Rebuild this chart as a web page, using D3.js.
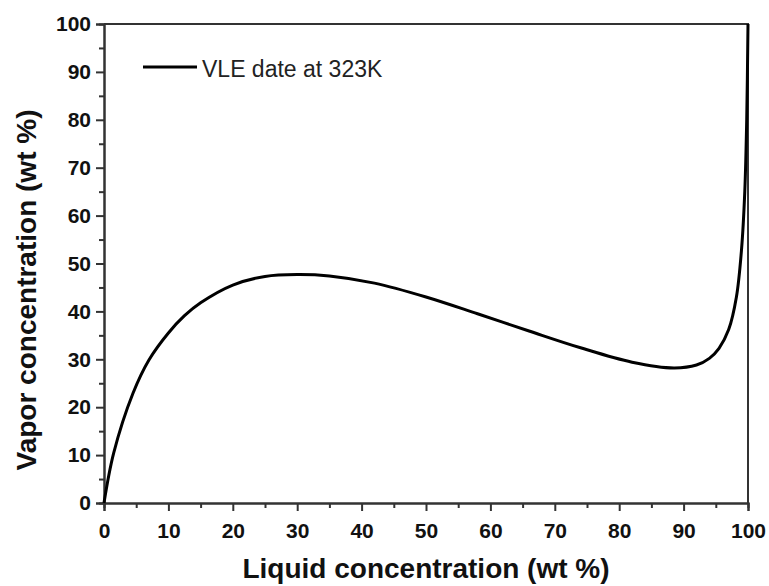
<!DOCTYPE html>
<html>
<head>
<meta charset="utf-8">
<script src="https://cdn.jsdelivr.net/npm/d3@7"></script>
<style>
  body { margin: 0; background: #fff; }
  svg { font-family: "Liberation Sans", Arial, sans-serif; }
</style>
</head>
<body>
<div id="chart"></div>
<script>
// VLE curve
const liquid = [0, 1.5, 4.5, 7, 10, 12.5, 15, 20, 25, 30, 35, 42, 50, 58, 66, 74, 82, 88.5, 92, 94, 95.5, 97, 98.2, 99, 99.5, 99.8, 100];
const vapor  = [0, 10.4, 22.9, 29.9, 35.5, 39.1, 41.8, 45.5, 47.3, 47.7, 47.4, 45.9, 43, 39.5, 35.9, 32.4, 29.4, 28.2, 28.8, 30.2, 32.3, 36.2, 43, 53, 65, 80, 100];
const majorTicks = [0, 10, 20, 30, 40, 50, 60, 70, 80, 90, 100];
const minorTicks = [5, 15, 25, 35, 45, 55, 65, 75, 85, 95];
const seriesName = "VLE date at 323K";

const W = 769, H = 586;
const MARGIN = {TOP: 24, BOTTOM: 83, LEFT: 104, RIGHT: 21};
const WIDTH = W - MARGIN.LEFT - MARGIN.RIGHT;
const HEIGHT = H - MARGIN.TOP - MARGIN.BOTTOM;

const svg = d3.select("#chart").append("svg")
    .attr("width", W)
    .attr("height", H);

const g = svg.append("g")
    .attr("transform", `translate(${MARGIN.LEFT},${MARGIN.TOP})`);

const x = d3.scaleLinear().domain([0, 100]).range([0, WIDTH]);
const y = d3.scaleLinear().domain([0, 100]).range([HEIGHT, 0]);

// frame (top and right, no ticks)
g.append("path")
    .attr("d", `M0,0H${WIDTH}V${HEIGHT}`)
    .attr("fill", "none")
    .attr("stroke", "#333")
    .attr("stroke-width", 2);

// minor ticks
g.append("g")
    .attr("transform", `translate(0,${HEIGHT})`)
    .call(d3.axisBottom(x).tickValues(minorTicks).tickSize(5).tickFormat(""));
g.append("g")
    .call(d3.axisLeft(y).tickValues(minorTicks).tickSize(5).tickFormat(""));

// major axes
g.append("g")
    .attr("transform", `translate(0,${HEIGHT})`)
    .call(d3.axisBottom(x).tickValues(majorTicks).tickSize(8).tickPadding(12));
g.append("g")
    .call(d3.axisLeft(y).tickValues(majorTicks).tickSize(8).tickPadding(5));

g.selectAll(".domain, .tick line")
    .attr("stroke", "#333")
    .attr("stroke-width", 2);
g.selectAll(".tick text")
    .attr("fill", "#111")
    .style("font-size", "21px")
    .style("font-weight", "bold")
    .style("font-family", "'Liberation Sans', Arial, sans-serif");

// curve
const pts = liquid.map((d, i) => [d, vapor[i]]);
g.append("path")
    .datum(pts)
    .attr("fill", "none")
    .attr("stroke", "#000")
    .attr("stroke-width", 3)
    .attr("d", d3.line()
        .x(d => x(d[0]))
        .y(d => y(d[1]))
        .curve(d3.curveCatmullRom.alpha(0.5)));

// legend
g.append("line")
    .attr("x1", 39).attr("x2", 93)
    .attr("y1", 43).attr("y2", 43)
    .attr("stroke", "#000")
    .attr("stroke-width", 3);
g.append("text")
    .attr("x", 98)
    .attr("y", 53)
    .style("font-size", "23px")
    .attr("fill", "#222")
    .text(seriesName);

// axis titles
svg.append("text")
    .attr("x", MARGIN.LEFT + WIDTH / 2)
    .attr("y", 578)
    .attr("text-anchor", "middle")
    .style("font-size", "28px")
    .style("font-weight", "bold")
    .attr("fill", "#111")
    .text("Liquid concentration (wt %)");

svg.append("text")
    .attr("transform", "translate(36,290) rotate(-90)")
    .attr("text-anchor", "middle")
    .style("font-size", "28px")
    .style("font-weight", "bold")
    .attr("fill", "#111")
    .text("Vapor concentration (wt %)");
</script>
</body>
</html>
